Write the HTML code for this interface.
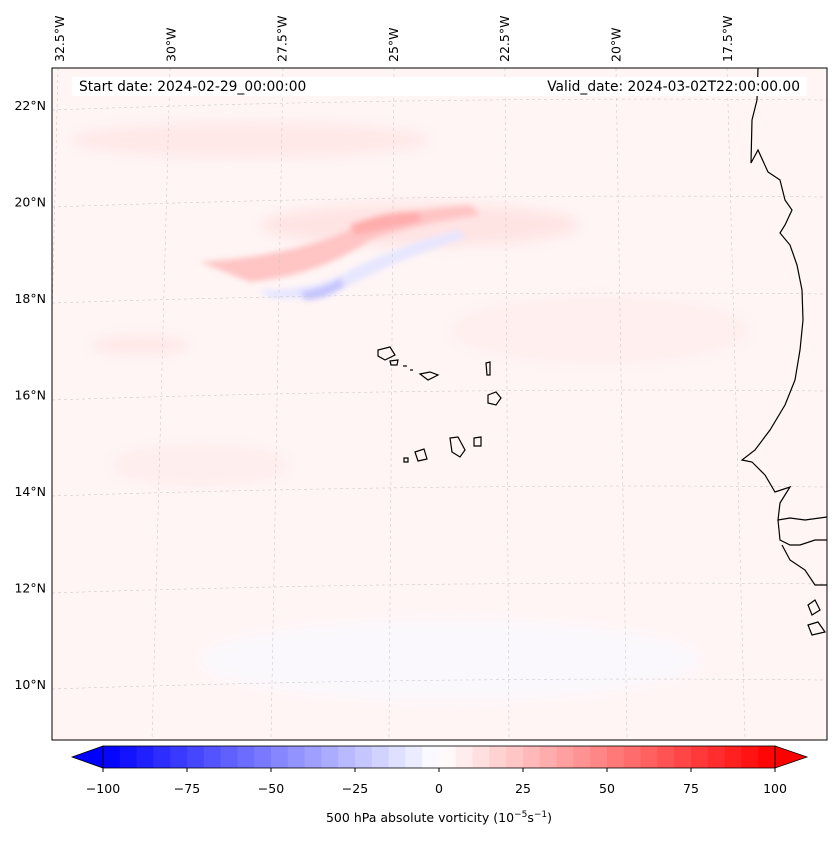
<!DOCTYPE html>
<html><head><meta charset="utf-8"><style>
body{margin:0;background:#fff;font-family:"Liberation Sans","DejaVu Sans",sans-serif}
svg text{font-family:"DejaVu Sans","Liberation Sans",sans-serif;font-size:12.5px;fill:#000}
</style></head><body>
<svg width="837" height="839" viewBox="0 0 837 839">
<defs>
<clipPath id="mc"><rect x="52" y="68" width="775" height="672"/></clipPath>
<filter id="bl"><feGaussianBlur stdDeviation="6"/></filter>
<filter id="bl2"><feGaussianBlur stdDeviation="3"/></filter>
</defs>
<g clip-path="url(#mc)">
<rect x="52" y="68" width="775" height="672" fill="#fff5f5"/>
<g filter="url(#bl)">
<ellipse cx="250" cy="140" rx="180" ry="18" fill="#ffe8e8"/>
<ellipse cx="420" cy="225" rx="160" ry="22" fill="#ffe4e4"/>
<ellipse cx="200" cy="465" rx="90" ry="22" fill="#ffeeee"/>
<ellipse cx="600" cy="330" rx="150" ry="35" fill="#ffefef"/>
<ellipse cx="140" cy="345" rx="50" ry="10" fill="#ffe8e8"/>
<ellipse cx="450" cy="660" rx="250" ry="40" fill="#fbf8fd"/>
</g>
<g filter="url(#bl2)">
<path d="M200,262 Q300,255 360,225 Q400,210 470,205 L480,215 Q410,225 370,240 Q320,275 250,282 Z" fill="#ffc4c4"/>
<path d="M350,225 Q390,210 420,212 L420,222 Q390,228 355,235Z" fill="#ffacac"/>
<path d="M260,290 Q320,290 350,270 Q400,245 460,230 L465,238 Q410,255 360,280 Q320,302 270,298Z" fill="#e6e6ff"/>
<path d="M300,292 Q325,288 340,278 L345,286 Q325,300 305,300Z" fill="#c4c4ff"/>
</g>
<g stroke="#ccc" stroke-width="0.6" stroke-dasharray="3,3" fill="none">
<path d="M52,110 Q440,96 827,100"/><path d="M52,207 Q440,193 827,197"/><path d="M52,303 Q440,290 827,294"/>
<path d="M52,400 Q440,387 827,391"/><path d="M52,496 Q440,483 827,487"/><path d="M52,593 Q440,580 827,584"/><path d="M52,689 Q440,676 827,680"/>
<path d="M58,68 L42,740"/><path d="M170,68 L152,740"/><path d="M283,68 L271,740"/><path d="M394,68 L389,740"/>
<path d="M505,68 L509,740"/><path d="M616,68 L627,740"/><path d="M727,68 L745,740"/>
</g>
</g>
<g fill="none" stroke="#000" stroke-width="1.2" clip-path="url(#mc)">
<path d="M758,68 L757,100 L752,120 L751,163 L758,150 L768,172 L780,180 L785,200 L792,210 L785,225 L780,233 L790,245 L797,265 L802,290 L803,320 L800,350 L795,380 L785,405 L770,430 L755,450 L742,460 L752,462 L765,475 L775,492 L790,487 L780,503 L778,520 L790,518 L805,520 L827,517"/>
<path d="M778,520 L780,540 L790,545 L800,545 L815,540 L827,540"/>
<path d="M782,545 L790,560 L805,570 L815,585 L827,585"/>
<path d="M808,605 L815,600 L820,610 L812,615Z"/><path d="M808,625 L818,622 L825,632 L812,635Z"/>
<path d="M378,350 L390,347 L395,355 L385,360 L378,356Z"/><path d="M390,361 L398,360 L397,365 L391,365Z"/>
<path d="M420,374 L430,372 L438,375 L428,380Z"/><path d="M486,363 L490,362 L490,375 L487,375Z"/>
<path d="M488,395 L496,392 L501,398 L496,405 L488,403Z"/><path d="M450,438 L458,437 L465,450 L460,457 L452,452Z"/>
<path d="M474,438 L481,437 L481,446 L474,446Z"/><path d="M415,452 L424,449 L427,459 L418,461Z"/><path d="M404,458 L408,458 L408,462 L404,462Z"/>
<path d="M403,366 L407,366"/><path d="M410,370 L413,370"/>
</g>
<rect x="52" y="68" width="775" height="672" fill="none" stroke="#000" stroke-width="1"/>
<rect x="72" y="77" width="735" height="19" fill="#fff"/>
<text x="79" y="91" style="font-size:13.8px">Start date: 2024-02-29_00:00:00</text>
<text x="800" y="91" text-anchor="end" style="font-size:13.8px">Valid_date: 2024-03-02T22:00:00.00</text>
<g id="latlabels"></g>
<g id="lonlabels"></g>
<g id="cbar"></g>
<text x="439" y="822" text-anchor="middle">500 hPa absolute vorticity (10<tspan dy="-5" font-size="9">−5</tspan><tspan dy="5">s</tspan><tspan dy="-5" font-size="9">−1</tspan><tspan dy="5">)</tspan></text>
</svg>
<script>
const latLabels=["22°N","20°N","18°N","16°N","14°N","12°N","10°N"];
const lonLabels=["32.5°W","30°W","27.5°W","25°W","22.5°W","20°W","17.5°W"];
const cbTicks=[-100,-75,-50,-25,0,25,50,75,100];
const cbMin=-100,cbMax=100,cbStep=5;
const NS="http://www.w3.org/2000/svg";
function mk(t,a,p){const e=document.createElementNS(NS,t);for(const k in a)e.setAttribute(k,a[k]);p.appendChild(e);return e;}
const latG=document.getElementById('latlabels');
latLabels.forEach((l,i)=>{const y=110+i*96.5;
 const t=mk('text',{x:46,y:y,'text-anchor':'end'},latG);t.textContent=l;
 
 });
const lonG=document.getElementById('lonlabels');
lonLabels.forEach((l,i)=>{const x=64+i*111.3;
 const t=mk('text',{x:x,y:62,transform:`rotate(-90 ${x} 62)`},lonG);t.textContent=l;
 
 });
const cb=document.getElementById('cbar');
const bx0=103,bx1=775,by=746,bh=22;
const sx=v=>bx0+(v-cbMin)/(cbMax-cbMin)*(bx1-bx0);
function col(v){const f=v/100;let r,g,b;
 if(f<0){r=g=Math.round(255*(1+f));b=255;}else{r=255;g=b=Math.round(255*(1-f));}return `rgb(${r},${g},${b})`;}
for(let v=cbMin;v<cbMax;v+=cbStep){const mid=v+cbStep/2;
 const r=mk('rect',{x:sx(v),y:by,width:sx(v+cbStep)-sx(v)+0.5,height:bh,fill:col(mid)},cb);
 
 }
const lt=mk('path',{d:`M${bx0},${by} L72,${by+bh/2} L${bx0},${by+bh}Z`,fill:'rgb(0,0,255)',stroke:'#000','stroke-width':0.8},cb);


const rt=mk('path',{d:`M${bx1},${by} L807,${by+bh/2} L${bx1},${by+bh}Z`,fill:'rgb(255,0,0)',stroke:'#000','stroke-width':0.8},cb);


mk('rect',{x:bx0,y:by,width:bx1-bx0,height:bh,fill:'none',stroke:'#000','stroke-width':0.8},cb);
cbTicks.forEach(v=>{const x=sx(v);
 mk('line',{x1:x,x2:x,y1:by+bh,y2:by+bh+4,stroke:'#000'},cb);
 const t=mk('text',{x:x,y:793,'text-anchor':'middle'},cb);t.textContent=v<0?'−'+(-v):String(v);
 
 });
</script>
</body></html>
